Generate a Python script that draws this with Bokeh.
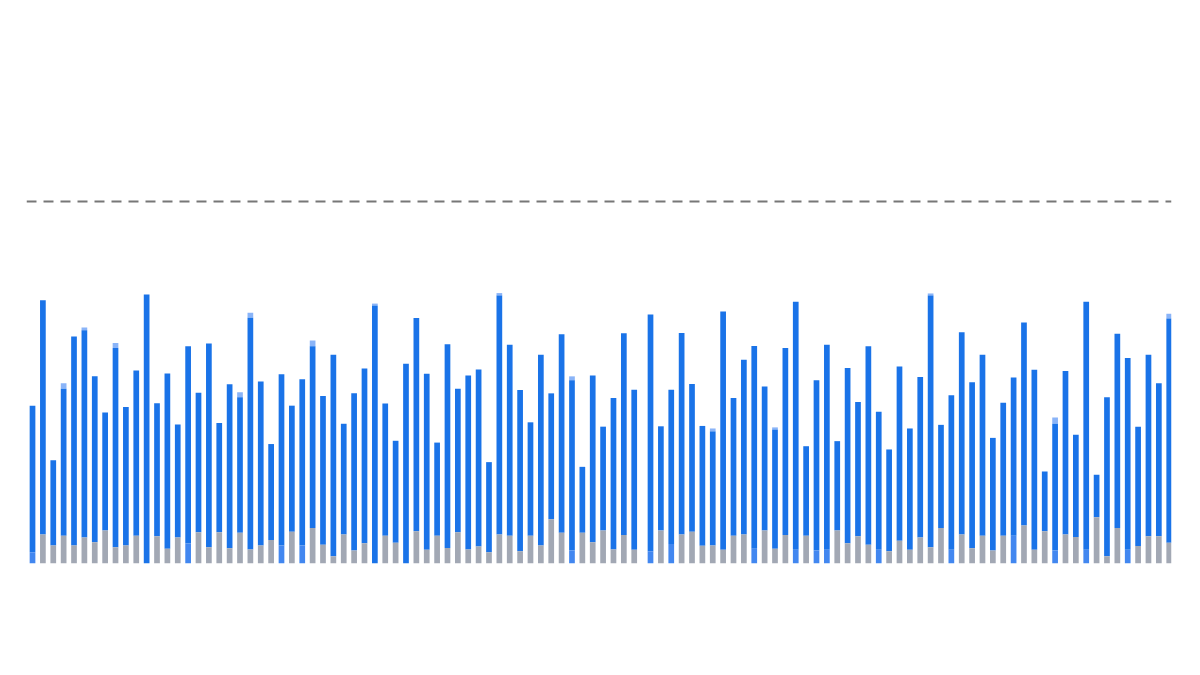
from bokeh.plotting import figure
from bokeh.models import ColumnDataSource, Range1d, Span
from bokeh.embed import file_html
from bokeh.resources import INLINE

# Values (units: target line = 100)
base = [3.1, 8.0, 5.0, 7.7, 5.0, 7.2, 5.9, 9.1, 4.5, 5.0,
        7.7, 0.0, 7.5, 4.1, 7.2, 5.5, 8.6, 4.5, 8.6, 4.2,
        8.5, 3.9, 5.0, 6.5, 5.0, 8.8, 5.0, 9.8, 5.2, 2.0,
        8.0, 3.6, 5.6, 0.0, 7.7, 5.7, 0.0, 8.9, 3.8, 7.7,
        4.3, 8.6, 3.9, 4.7, 3.1, 8.0, 7.7, 3.4, 7.7, 5.0,
        12.2, 8.5, 3.6, 8.5, 5.9, 9.1, 3.9, 7.9, 3.8, 3.4,
        9.1, 5.4, 8.0, 8.8, 4.9, 5.0, 3.8, 7.7, 8.0, 4.1,
        9.1, 4.1, 7.9, 3.8, 7.7, 3.6, 3.8, 9.1, 5.6, 7.5,
        5.2, 3.8, 3.4, 6.3, 3.8, 7.2, 4.5, 9.8, 3.8, 8.0,
        4.2, 7.7, 3.6, 7.7, 7.7, 10.5, 3.8, 8.9, 3.6, 8.0,
        7.3, 3.8, 12.8, 2.0, 9.8, 3.8, 4.8, 7.5, 7.5, 5.7]

# g = grey base segment, b = lighter blue base segment, - = none
base_kind = list("bgggggggggg-gggbgggg"
                 "ggggbgbgggggg-gg-ggg"
                 "ggggggggggggbggggggb"
                 "gbgggggggbgggbgbbggg"
                 "gbggggggbgggggbgggbg"
                 "gbgggbgggg")

total = [43.6, 72.7, 28.5, 48.3, 62.7, 64.4, 51.7, 41.7, 59.5, 43.2,
         53.3, 74.3, 44.3, 52.5, 38.4, 60.0, 47.2, 60.8, 38.8, 49.5,
         45.9, 67.9, 50.3, 33.0, 52.3, 43.6, 50.9, 60.0, 46.3, 57.7,
         38.6, 47.0, 53.9, 71.3, 44.2, 33.9, 55.2, 67.8, 52.4, 33.4,
         60.6, 48.3, 51.9, 53.6, 28.0, 74.0, 60.4, 47.9, 39.0, 57.7,
         47.0, 63.3, 50.6, 26.7, 51.9, 37.8, 45.7, 63.6, 48.0, 68.8,
         37.9, 48.0, 63.7, 49.6, 38.0, 36.5, 69.6, 45.7, 56.3, 60.1,
         48.9, 37.0, 59.5, 72.3, 32.4, 50.6, 60.4, 33.8, 54.0, 44.6,
         60.0, 41.9, 31.5, 54.4, 37.3, 51.5, 74.0, 38.3, 46.5, 63.9,
         50.1, 57.7, 34.7, 44.4, 51.4, 66.6, 53.5, 25.4, 38.6, 53.2,
         35.6, 72.3, 24.5, 45.9, 63.5, 56.8, 37.8, 57.7, 49.8, 67.7]

cap = [0, 0, 0, 1.5, 0, 0.8, 0, 0, 1.4, 0,
       0, 0, 0, 0, 0, 0, 0, 0, 0, 0,
       1.4, 1.4, 0, 0, 0, 0, 0, 1.6, 0, 0,
       0, 0, 0, 0.5, 0, 0, 0, 0, 0, 0,
       0, 0, 0, 0, 0, 0.7, 0, 0, 0, 0,
       0, 0, 1.1, 0, 0, 0, 0, 0, 0, 0,
       0, 0, 0, 0, 0, 0.8, 0, 0, 0, 0,
       0, 0.6, 0, 0, 0, 0, 0, 0, 0, 0,
       0, 0, 0, 0, 0, 0, 0.6, 0, 0, 0,
       0, 0, 0, 0, 0, 0, 0, 0, 1.7, 0,
       0, 0, 0, 0, 0, 0, 0, 0, 0, 1.3]

target = 100
n = len(total)
split_index = 59   # bars after this index sit after a small gap
gap = 0.57

x = [i if i < split_index else i + gap for i in range(n)]
cap_top = [t + c for t, c in zip(total, cap)]
kind_color = {"g": "#a2a8b4", "b": "#4287f0", "-": "#4287f0"}
base_colors = [kind_color[k] for k in base_kind]

src = ColumnDataSource(dict(x=x, base=base, total=total, cap_top=cap_top,
                            zero=[0] * n, base_color=base_colors))

p = figure(width=1192, height=667, output_backend="svg", toolbar_location=None,
           x_range=Range1d(-0.58, x[-1] + 0.22), y_range=Range1d(0, 150),
           x_axis_location=None, y_axis_location=None,
           min_border_left=26, min_border_right=21,
           min_border_top=20, min_border_bottom=104)
p.grid.visible = False
p.outline_line_color = None
p.background_fill_color = "white"
p.border_fill_color = "white"

w = 0.55
p.vbar(x="x", bottom="total", top="cap_top", width=w, source=src,
       fill_color="#8ab4f8", line_color=None)
p.vbar(x="x", bottom="base", top="total", width=w, source=src,
       fill_color="#1a73e8", line_color=None)
p.vbar(x="x", bottom="zero", top="base", width=w, source=src,
       fill_color="base_color", line_color=None)

p.add_layout(Span(location=target, dimension="width", line_color="#777777",
                  line_width=2, line_dash="10 7"))

open("out.html", "w").write(file_html(p, INLINE))
